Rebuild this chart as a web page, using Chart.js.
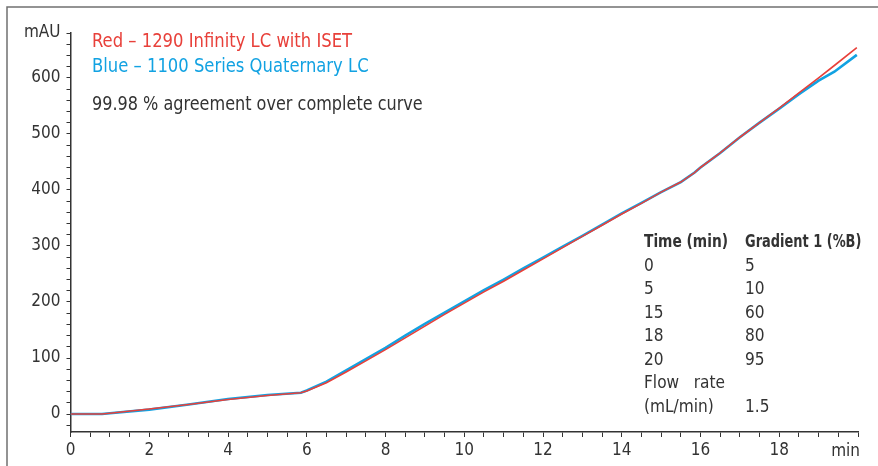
<!DOCTYPE html>
<html>
<head>
<meta charset="utf-8">
<script src="https://cdn.jsdelivr.net/npm/chart.js@4.4.1/dist/chart.umd.min.js"></script>
<style>
  html, body { margin: 0; padding: 0; background: #fff; }
  #wrap { position: relative; width: 878px; height: 466px; }
  canvas { display: block; }
</style>
</head>
<body>
<div id="wrap"><canvas id="c" width="878" height="466"></canvas></div>
<script>
// ---- data ----
const times = [0, 0.5, 0.8, 1, 2, 3, 4, 5, 5.85, 6, 6.5, 7, 7.5, 8, 8.5, 9, 9.5, 10, 10.5, 11, 11.5, 12, 12.5, 13, 13.5, 14, 14.5, 15, 15.5, 15.85, 16, 16.5, 17, 17.5, 18, 18.5, 19, 19.4, 19.97];
const redValues = [0, 0, 0, 1.5, 9, 17, 26, 33, 38, 41, 56, 75, 95, 115, 136, 157, 178, 198, 218, 237, 257, 277, 297, 317, 337, 357, 376, 396, 414, 431, 440, 466, 494, 520, 546, 573, 600, 622, 654];
const blueValues = [0, 0, 0, 1.5, 8, 17, 27, 34, 38, 42, 58, 78, 98, 118, 140, 161, 181, 201, 221, 240, 260, 279, 299, 318, 338, 358, 377, 396, 414, 431, 440, 466, 494, 520, 545, 571, 595, 611, 641];
const seriesNames = ["Red \u2013 1290 Infinity LC with ISET", "Blue \u2013 1100 Series Quaternary LC"];
const noteText = "99.98 % agreement over complete curve";
const yTickLabels = [0, 100, 200, 300, 400, 500, 600];
const yUnitLabel = "mAU";
const xTickLabels = [0, 2, 4, 6, 8, 10, 12, 14, 16, 18];
const xUnitLabel = "min";
const tableHeader = ["Time (min)", "Gradient 1 (%B)"];
const tableRows = [["0", "5"], ["5", "10"], ["15", "60"], ["18", "80"], ["20", "95"], ["Flow   rate", ""], ["(mL/min)", "1.5"]];

// ---- styles ----
const FONT = "'Liberation Sans Narrow', 'DejaVu Sans Condensed', 'Roboto Condensed', 'Liberation Sans', sans-serif";
const RED = '#e8403a';
const BLUE = '#12a2e2';
const TEXT = '#333333';

function squeezedText(ctx, str, x, y, sx) {
  ctx.save();
  ctx.translate(x, y);
  ctx.scale(sx, 1);
  ctx.fillText(str, 0, 0);
  ctx.restore();
}

const annotations = {
  id: 'annotations',
  beforeDraw(chart) {
    const ctx = chart.ctx;
    ctx.save();
    ctx.strokeStyle = '#707070';
    ctx.lineWidth = 1.5;
    ctx.beginPath();
    ctx.moveTo(7, 466);
    ctx.lineTo(7, 7);
    ctx.lineTo(878, 7);
    ctx.stroke();
    ctx.restore();
  },
  afterDraw(chart) {
    const ctx = chart.ctx;
    const x = chart.scales.x;
    ctx.save();
    ctx.textBaseline = 'alphabetic';
    ctx.textAlign = 'left';
    ctx.font = '19px ' + FONT;
    ctx.fillStyle = RED;
    squeezedText(ctx, seriesNames[0], 92, 47, 0.96);
    ctx.fillStyle = BLUE;
    squeezedText(ctx, seriesNames[1], 92, 72, 0.96);
    ctx.fillStyle = TEXT;
    squeezedText(ctx, noteText, 92, 110, 0.94);

    // table
    ctx.font = 'bold 18px ' + FONT;
    squeezedText(ctx, tableHeader[0], 644, 247, 0.85);
    squeezedText(ctx, tableHeader[1], 745, 247, 0.8);
    ctx.font = '18px ' + FONT;
    tableRows.forEach((r, i) => {
      const y = 247 + 23.5 * (i + 1);
      squeezedText(ctx, r[0], 644, y, 0.95);
      if (r[1]) squeezedText(ctx, r[1], 745, y, 0.95);
    });

    // x unit label at the axis end
    ctx.font = '17px ' + FONT;
    ctx.textAlign = 'right';
    ctx.fillStyle = TEXT;
    ctx.fillText(xUnitLabel, x.right + 2, 456);
    ctx.restore();
  }
};

const chart = new Chart(document.getElementById('c'), {
  type: 'line',
  data: {
    datasets: [
      {
        label: seriesNames[0],
        data: times.map((t, i) => ({ x: t, y: redValues[i] })),
        borderColor: RED,
        borderWidth: 1.6,
        pointRadius: 0,
        tension: 0,
        order: 0
      },
      {
        label: seriesNames[1],
        data: times.map((t, i) => ({ x: t, y: blueValues[i] })),
        borderColor: BLUE,
        borderWidth: 2.6,
        pointRadius: 0,
        tension: 0,
        order: 1
      }
    ]
  },
  options: {
    responsive: false,
    animation: false,
    events: [],
    layout: { padding: { top: 33, right: 20, left: 0, bottom: 0 } },
    plugins: { legend: { display: false }, tooltip: { enabled: false } },
    scales: {
      x: {
        type: 'linear',
        min: 0,
        max: 20,
        border: { display: true, color: '#333', width: 1.5 },
        grid: { drawOnChartArea: false, drawTicks: true, tickLength: 5, color: '#333', tickWidth: 1 },
        afterBuildTicks(s) {
          const t = [];
          for (let v = 0; v <= 20; v += 0.5) t.push({ value: v });
          s.ticks = t;
        },
        afterFit(s) { s.height = 34; },
        ticks: {
          autoSkip: false,
          maxRotation: 0,
          padding: 3,
          color: TEXT,
          font: { family: FONT, size: 17 },
          callback(v) { return xTickLabels.includes(v) ? String(v) : ''; }
        }
      },
      y: {
        type: 'linear',
        min: -32,
        max: 680,
        border: { display: true, color: '#333', width: 1.5 },
        grid: { drawOnChartArea: false, drawTicks: true, tickLength: 4, color: '#333', tickWidth: 1 },
        afterBuildTicks(s) {
          const t = [];
          for (let v = -20; v <= 680; v += 20) t.push({ value: v });
          s.ticks = t;
        },
        afterFit(s) { s.width = 70.5; },
        ticks: {
          autoSkip: false,
          padding: 6,
          color: TEXT,
          font: { family: FONT, size: 17 },
          callback(v) {
            if (v === 680) return yUnitLabel;
            return yTickLabels.includes(v) ? String(v) : '';
          }
        }
      }
    }
  },
  plugins: [annotations]
});
</script>
</body>
</html>
